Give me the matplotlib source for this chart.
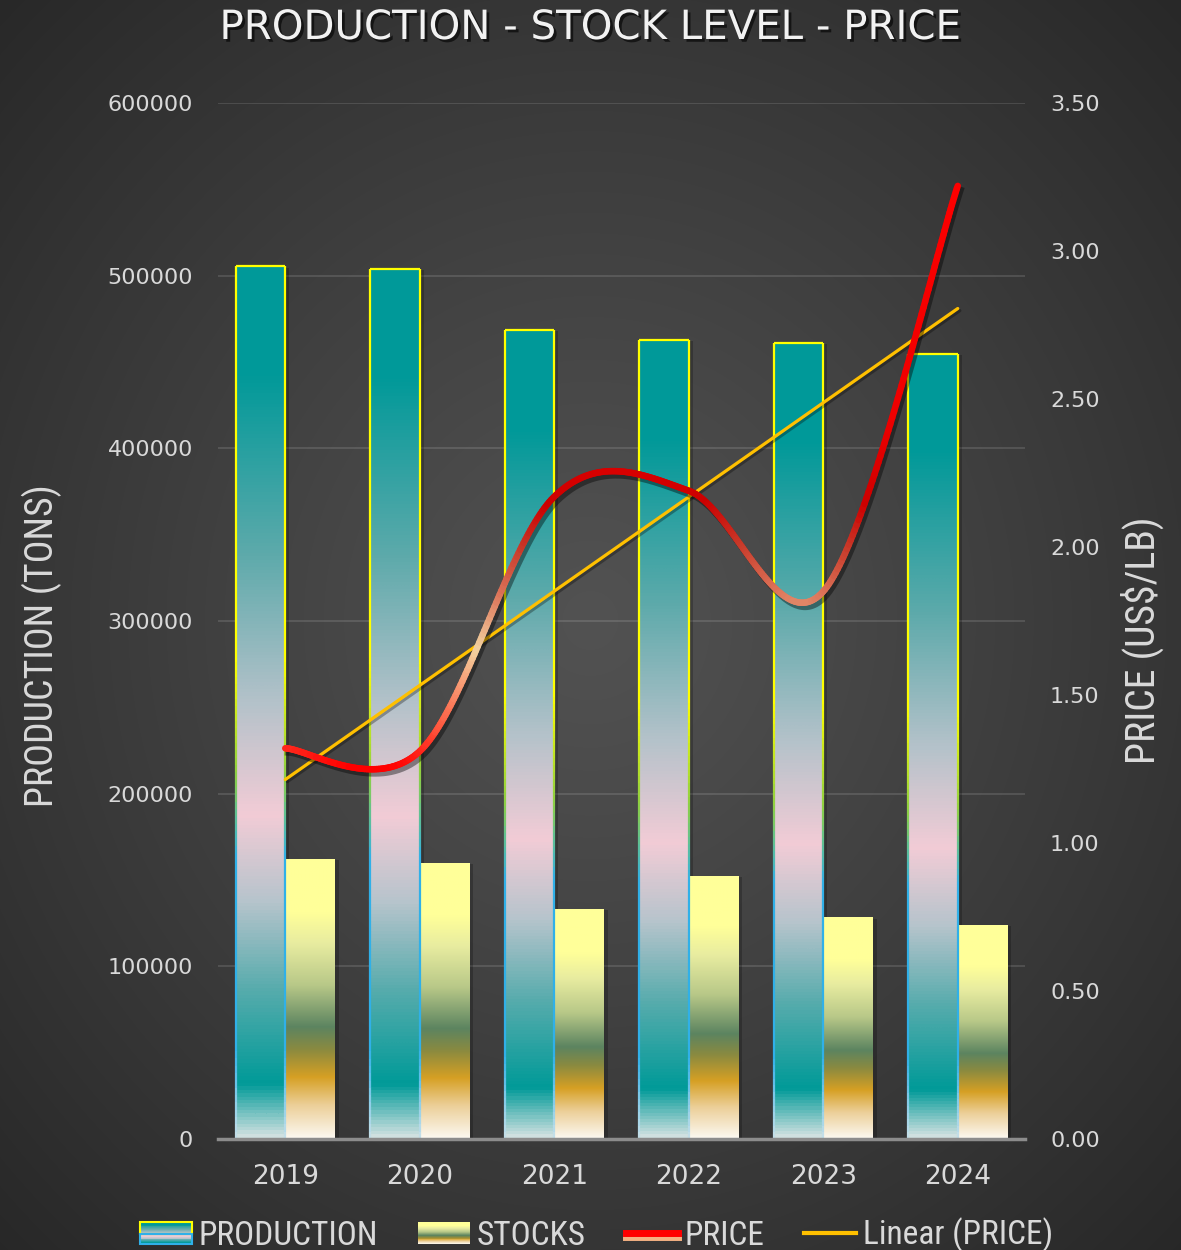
import numpy as np
import matplotlib
matplotlib.use("Agg")
import matplotlib.pyplot as plt
import matplotlib.patheffects as pe
from matplotlib import font_manager as fm
from matplotlib.colors import LinearSegmentedColormap, Normalize, to_rgb
from matplotlib.collections import LineCollection
from matplotlib.legend_handler import HandlerBase
from matplotlib.patches import Rectangle
from matplotlib.lines import Line2D

years = ["2019", "2020", "2021", "2022", "2023", "2024"]
production = [505500, 503800, 468500, 462700, 461000, 454600]
stocks = [162100, 159800, 133200, 152300, 128000, 123900]
price = [1.32, 1.31, 2.17, 2.19, 1.85, 3.22]

TXT = "#d9d9d9"

# fill gradients, position measured from the top of each bar
prod_stops = [(0.0, "#009999"), (0.12, "#009999"), (0.33, "#5eaaab"),
              (0.5, "#b4c2ca"), (0.63, "#f2ccd6"), (0.73, "#b6c4cc"),
              (0.83, "#58acad"), (0.94, "#009a98"), (1.0, "#cfe0e0")]
stock_stops = [(0.0, "#ffff99"), (0.19, "#ffff99"), (0.3, "#e8eca0"),
               (0.45, "#b8c888"), (0.6, "#5c8460"), (0.68, "#8a8a40"),
               (0.78, "#d6a024"), (0.88, "#eccf98"), (1.0, "#fcf9f2")]
edge_stops = [(0.0, "#ffff00"), (0.45, "#ffff00"), (0.58, "#90d040"),
              (0.68, "#30b0e8"), (0.9, "#30b0e8"), (1.0, "#c8e0e8")]
# price line colour depends on the price level
price_stops = [(1.25, "#ff0000"), (1.40, "#ff5a40"), (1.66, "#f2d2a0"),
               (1.85, "#dc7258"), (2.00, "#c83a2a"), (2.15, "#cc0000"),
               (2.45, "#ee0000"), (3.30, "#ff0000")]

prod_cmap = LinearSegmentedColormap.from_list("prod", prod_stops)
stock_cmap = LinearSegmentedColormap.from_list("stock", stock_stops)
edge_cmap = LinearSegmentedColormap.from_list("edge", edge_stops)
lo, hi = price_stops[0][0], price_stops[-1][0]
price_cmap = LinearSegmentedColormap.from_list(
    "price", [((v - lo) / (hi - lo), c) for v, c in price_stops])


def narrow_font():
    """Return (family, stretch) of a condensed face if one is installed."""
    fonts = fm.fontManager.ttflist
    names = {f.name for f in fonts}
    for name in ["Liberation Sans Narrow", "Roboto Condensed", "Open Sans Condensed",
                 "Noto Sans Condensed", "DejaVu Sans Condensed"]:
        if name in names:
            return name, "normal"
    for f in fonts:
        if "condensed" in str(f.stretch) and f.style == "normal" and f.name in ("DejaVu Sans", "Noto Sans", "Roboto", "Open Sans"):
            return f.name, "condensed"
    return "DejaVu Sans", "normal"


NARROW, STRETCH = narrow_font()


def excel_smooth(xs, ys, n=80):
    pts = np.column_stack([xs, ys]).astype(float)
    ext = np.vstack([pts[0], pts, pts[-1]])
    out = []
    t = np.linspace(0, 1, n)[:, None]
    for i in range(len(pts) - 1):
        p0, p1 = ext[i + 1], ext[i + 2]
        c1 = p0 + (ext[i + 2] - ext[i]) / 6
        c2 = p1 - (ext[i + 3] - ext[i + 1]) / 6
        seg = (1 - t) ** 3 * p0 + 3 * (1 - t) ** 2 * t * c1 + 3 * (1 - t) * t ** 2 * c2 + t ** 3 * p1
        out.append(seg if i == 0 else seg[1:])
    return np.vstack(out)


class GradientHandler(HandlerBase):
    def __init__(self, cmap, edge=None):
        super().__init__()
        self.cmap = cmap
        self.edge = edge

    def create_artists(self, legend, orig_handle, xdescent, ydescent,
                       width, height, fontsize, trans):
        n = 24
        arts = []
        for i in range(n):
            y = -ydescent + height * (1 - (i + 1) / n)
            arts.append(Rectangle((-xdescent, y), width, height / n * 1.1,
                                  facecolor=self.cmap((i + 0.5) / n),
                                  edgecolor="none", transform=trans))
        if self.edge:
            arts.append(Rectangle((-xdescent, -ydescent + height * 0.45), width, height * 0.55,
                                  facecolor="none", edgecolor=self.edge, lw=1.5, transform=trans))
            arts.append(Rectangle((-xdescent, -ydescent), width, height * 0.45,
                                  facecolor="none", edgecolor="#30b0e8", lw=1.5, transform=trans))
        return arts


fig = plt.figure(figsize=(11.81, 12.5), dpi=100)
renderer = fig.canvas.get_renderer()


def fit_width(txt, target_px):
    w = txt.get_window_extent(renderer).width
    txt.set_fontsize(txt.get_fontsize() * target_px / w)


# radial background
H, W = 1250, 1181
yy, xx = np.mgrid[0:H, 0:W]
r = np.sqrt(((xx - 590) / W) ** 2 + ((yy - 620) / H) ** 2) / 0.72
r = np.clip(r, 0, 1) ** 1.1
c_in, c_out = np.array(to_rgb("#525252")), np.array(to_rgb("#272727"))
bg_img = c_in[None, None, :] * (1 - r[..., None]) + c_out[None, None, :] * r[..., None]
bg = fig.add_axes([0, 0, 1, 1], zorder=-10)
bg.imshow(bg_img, aspect="auto", interpolation="bilinear")
bg.axis("off")

ax = fig.add_axes([218 / W, 1 - 1139 / H, (1025 - 218) / W, (1139 - 103) / H])
ax.patch.set_alpha(0)
x = np.arange(len(years))
bw = 0.367
grad = np.linspace(0, 1, 256)[:, None]

for i in range(len(years)):
    for left, val, cmap in [(x[i] - bw, production[i], prod_cmap),
                            (x[i], stocks[i], stock_cmap)]:
        shadow = Rectangle((left, 0), bw, val, facecolor="black", edgecolor="none", zorder=2,
                           path_effects=[pe.SimplePatchShadow(offset=(3, -1), shadow_rgbFace="black",
                                                              alpha=0.22)])
        ax.add_patch(shadow)
        ax.imshow(grad, cmap=cmap, aspect="auto", origin="upper",
                  extent=[left, left + bw, 0, val], zorder=3, interpolation="bilinear")

    # production outline, yellow at the top fading to blue at the base
    left, top = x[i] - bw, production[i]
    ys = np.linspace(top, 0, 120)
    segs, cols = [], []
    for xe in (left, left + bw):
        for k in range(len(ys) - 1):
            segs.append([(xe, ys[k]), (xe, ys[k + 1])])
            cols.append(edge_cmap(1 - (ys[k] + ys[k + 1]) / 2 / top))
    segs.append([(left, top), (left + bw, top)])
    cols.append(edge_cmap(0.0))
    ax.add_collection(LineCollection(segs, colors=cols, linewidths=1.6, zorder=4))

ax.set_xlim(-0.5, 5.5)
ax.set_ylim(0, 600000)
ax.set_xticks(x)
ax.set_xticklabels(years)
ax.set_yticks(range(0, 600001, 100000))
ax.set_yticklabels([str(v) for v in range(0, 600001, 100000)])
ax.tick_params(axis="x", length=0, pad=18, labelsize=19, labelcolor=TXT)
ax.tick_params(axis="y", length=0, pad=18, labelsize=16, labelcolor=TXT)
ax.grid(axis="y", color="white", alpha=0.12, lw=1.5, zorder=0)
ax.set_axisbelow(True)
for s in ["top", "left", "right"]:
    ax.spines[s].set_visible(False)
ax.spines["bottom"].set_color("#8c8c8c")
ax.spines["bottom"].set_linewidth(2.5)
ax.spines["bottom"].set_zorder(5)

ax2 = ax.twinx()
ax2.patch.set_alpha(0)
ax2.set_ylim(0, 3.5)
ax2.set_yticks(np.arange(0, 3.51, 0.5))
ax2.set_yticklabels([f"{v:.2f}" for v in np.arange(0, 3.51, 0.5)])
ax2.tick_params(axis="y", length=0, pad=18, labelsize=16, labelcolor=TXT)
for s in ax2.spines.values():
    s.set_visible(False)

# linear trend of the price
coef = np.polyfit(x, price, 1)
ax2.plot(x, np.polyval(coef, x), color="#ffc000", lw=2.3, solid_capstyle="round", zorder=5,
         path_effects=[pe.SimpleLineShadow(offset=(1.5, -1.5), shadow_color="black", alpha=0.3),
                       pe.Normal()])

# smoothed price line with colour by level
curve = excel_smooth(x, price)
ax2.plot(curve[:, 0], curve[:, 1], color="black", lw=4.7, zorder=5.5,
         path_effects=[pe.SimpleLineShadow(offset=(2, -3), shadow_color="black", alpha=0.4)])
segs = np.stack([curve[:-1], curve[1:]], axis=1)
mids = (curve[:-1, 1] + curve[1:, 1]) / 2
lc = LineCollection(segs, colors=price_cmap(Normalize(lo, hi)(mids)), linewidths=4.7,
                    capstyle="round", joinstyle="round", zorder=6)
ax2.add_collection(lc)

font = dict(family=NARROW, fontstretch=STRETCH)
fig.text(0.5, 1 - 28 / H, "PRODUCTION - STOCK LEVEL - PRICE", ha="center", va="center",
         fontsize=29, color="#f2f2f2", family="DejaVu Sans",
         path_effects=[pe.withSimplePatchShadow(offset=(2, -2), shadow_rgbFace="black", alpha=0.6)])
ylab = fig.text(42 / W, 1 - 646 / H, "PRODUCTION (TONS)", rotation=0, ha="center", va="center",
                fontsize=25, color=TXT, **font)
fit_width(ylab, 323)
ylab.set_rotation(90)
ylab2 = fig.text(1142 / W, 1 - 640 / H, "PRICE (US$/LB)", rotation=0, ha="center", va="center",
                 fontsize=25, color=TXT, **font)
fit_width(ylab2, 248)
ylab2.set_rotation(90)

# legend label size from the width of its first label
probe = fig.text(0, 0, "PRODUCTION", fontsize=21, **font)
fit_width(probe, 179)
leg_size = probe.get_fontsize()
probe.remove()

h_prod = Rectangle((0, 0), 1, 1)
h_stock = Rectangle((0, 0), 1, 1)
h_price = Line2D([], [], color="#ff0000", lw=5,
                 path_effects=[pe.SimpleLineShadow(offset=(0, -2.5), shadow_color="#f4b183", alpha=1, rho=1),
                               pe.Normal()])
h_trend = Line2D([], [], color="#ffc000", lw=3)
handle_len = 52 / (leg_size * 100 / 72)
leg = fig.legend([h_prod, h_stock, h_price, h_trend],
                 ["PRODUCTION", "STOCKS", "PRICE", "Linear (PRICE)"],
                 handler_map={h_prod: GradientHandler(prod_cmap, "#ffff00"),
                              h_stock: GradientHandler(stock_cmap)},
                 loc="lower center", bbox_to_anchor=(0.505, -0.026), ncol=4, frameon=False,
                 prop={"family": NARROW, "stretch": STRETCH, "size": leg_size}, labelcolor=TXT,
                 handlelength=handle_len, handleheight=0.65, handletextpad=0.2,
                 columnspacing=40 / (leg_size * 100 / 72))

fig.savefig("out.png", dpi=100)
